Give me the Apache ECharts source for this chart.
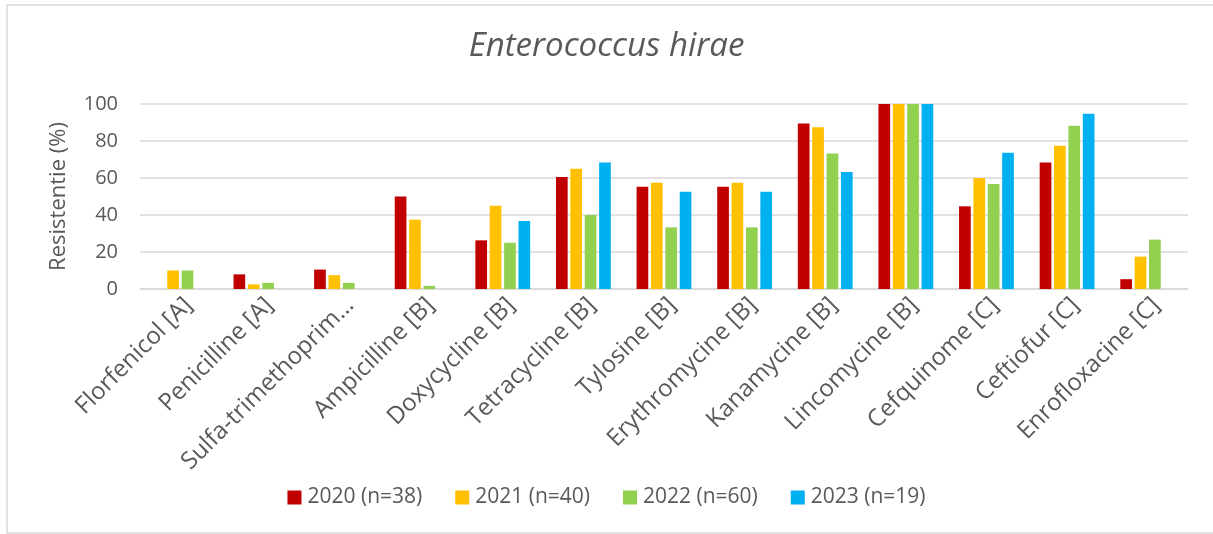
<!DOCTYPE html>
<html>
<head>
<meta charset="utf-8">
<script src="https://cdn.jsdelivr.net/npm/echarts@6/dist/echarts.min.js"></script>
<style>
  html, body { margin: 0; padding: 0; background: #fff; }
  #chart { width: 1213px; height: 534px; }
</style>
</head>
<body>
<div id="chart"></div>
<script>
// antibiotics on the x axis
const categories = [
  "Florfenicol [A]", "Penicilline [A]", "Sulfa-trimethoprim…", "Ampicilline [B]",
  "Doxycycline [B]", "Tetracycline [B]", "Tylosine [B]", "Erythromycine [B]",
  "Kanamycine [B]", "Lincomycine [B]", "Cefquinome [C]", "Ceftiofur [C]",
  "Enrofloxacine [C]"
];
const seriesNames = ["2020 (n=38)", "2021 (n=40)", "2022 (n=60)", "2023 (n=19)"];
const y2020 = [null, 7.9, 10.5, 50, 26.3, 60.5, 55.3, 55.3, 89.5, 100, 44.7, 68.4, 5.3];
const y2021 = [10, 2.5, 7.5, 37.5, 45, 65, 57.5, 57.5, 87.5, 100, 60, 77.5, 17.5];
const y2022 = [10, 3.3, 3.3, 1.7, 25, 40, 33.3, 33.3, 73.3, 100, 56.7, 88.3, 26.7];
const y2023 = [null, null, null, null, 36.8, 68.4, 52.6, 52.6, 63.2, 100, 73.7, 94.7, null];
const yTicks = [0, 20, 40, 60, 80, 100];

const colors = ["#C00000", "#FFC000", "#92D050", "#00B0F0"];
const textColor = "#595959";
const font = "Open Sans";

const chart = echarts.init(document.getElementById("chart"));
const allData = [y2020, y2021, y2022, y2023];

chart.setOption({
  color: colors,
  animation: false,
  textStyle: { fontFamily: font, color: textColor },
  graphic: [{
    type: "rect",
    shape: { x: 7, y: 5, width: 1230, height: 528 },
    style: { fill: "none", stroke: "#d9d9d9", lineWidth: 1.5 },
    silent: true
  }],
  title: {
    text: "Enterococcus hirae",
    left: "center",
    top: 25,
    textStyle: { fontFamily: font, fontStyle: "italic", fontWeight: "normal", fontSize: 33, color: textColor }
  },
  legend: {
    data: seriesNames,
    bottom: 21,
    left: "center",
    icon: "rect",
    itemWidth: 14,
    itemHeight: 14,
    itemGap: 33,
    textStyle: { fontFamily: font, fontSize: 21, color: textColor, padding: [0, 0, 0, 1] }
  },
  grid: { left: 140, right: 25, top: 104, bottom: 245 },
  xAxis: {
    type: "category",
    data: categories,
    axisLine: { lineStyle: { color: "#d9d9d9", width: 1.5 } },
    axisTick: { show: false },
    axisLabel: {
      interval: 0, rotate: 45, margin: 4, verticalAlign: "top",
      fontSize: 24, color: textColor, fontFamily: font
    }
  },
  yAxis: {
    type: "value",
    min: yTicks[0],
    max: yTicks[yTicks.length - 1],
    interval: 20,
    name: "Resistentie (%)",
    nameLocation: "middle",
    nameGap: 70,
    nameTextStyle: { fontSize: 22, color: textColor, fontFamily: font },
    axisLabel: { fontSize: 20, color: textColor, margin: 22, fontFamily: font },
    splitLine: { lineStyle: { color: "#d9d9d9", width: 1.5 } },
    axisLine: { show: false },
    axisTick: { show: false }
  },
  series: seriesNames.map((name, i) => ({
    name: name,
    type: "bar",
    data: allData[i],
    barGap: "23%",
    barCategoryGap: "32%"
  }))
});
</script>
</body>
</html>
